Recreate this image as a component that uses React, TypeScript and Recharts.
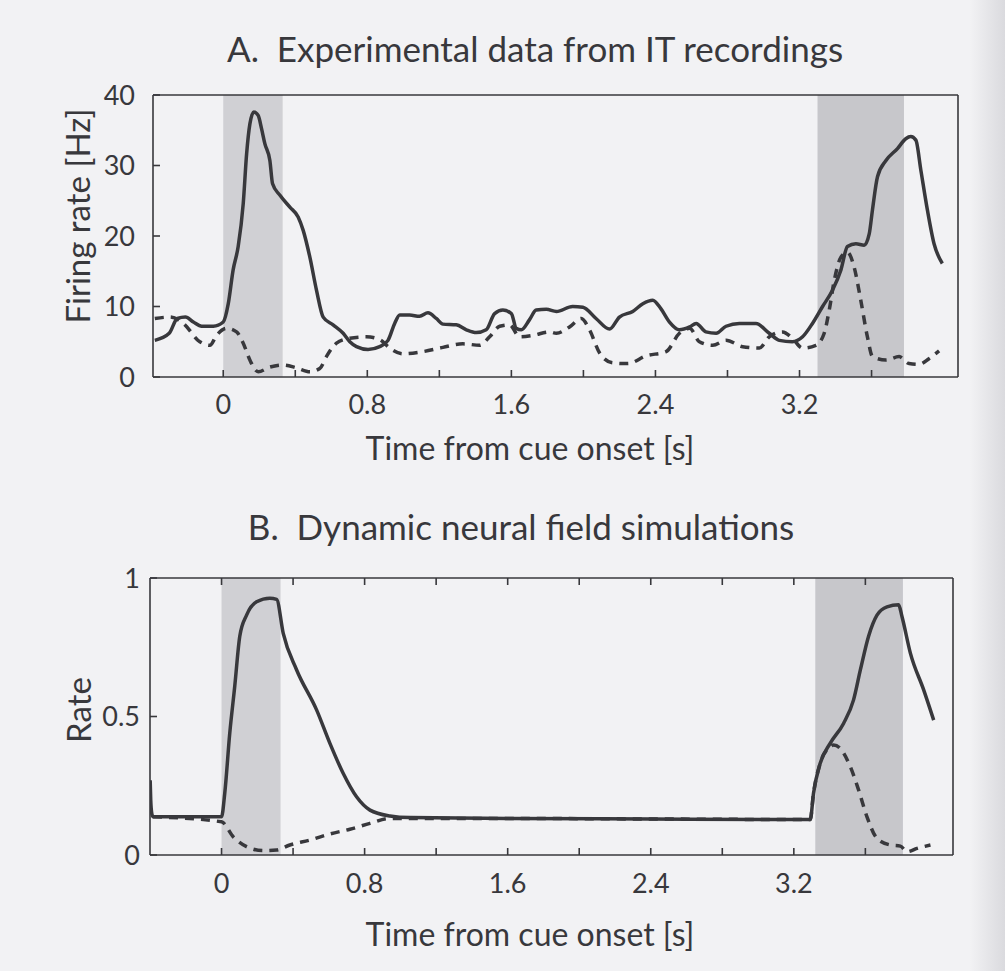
import { ComposedChart, Line, XAxis, YAxis, ReferenceArea } from "recharts";

// time axis ticks (s), labels only every 0.8 s
const timeTicks = [0, 0.4, 0.8, 1.2, 1.6, 2, 2.4, 2.8, 3.2, 3.6];
const rateTicksA = [0, 10, 20, 30, 40];
const rateTicksB = [0, 0.5, 1];

// cue and probe periods (shaded)
const cueWindow = [0, 0.33];
const probeWindowA = [3.3, 3.78];
const probeWindowB = [3.32, 3.81];

// A: recorded IT firing rate [Hz]
const itPreferredT = [
  -0.38, -0.3, -0.255, -0.21, -0.166, -0.12, -0.055, 0, 0.028, 0.055, 0.083, 0.111, 0.13, 0.148, 0.17, 0.194,
  0.213, 0.231, 0.259, 0.274, 0.314, 0.37, 0.416, 0.444, 0.481, 0.518, 0.555, 0.61, 0.666, 0.703, 0.74, 0.804,
  0.869, 0.915, 0.952, 0.98, 1.035, 1.09, 1.137, 1.183, 1.22, 1.294, 1.35, 1.405, 1.46, 1.507, 1.553, 1.6,
  1.627, 1.655, 1.7, 1.738, 1.794, 1.85, 1.94, 1.997, 2.07, 2.145, 2.2, 2.274, 2.33, 2.385, 2.43, 2.478,
  2.533, 2.59, 2.626, 2.68, 2.737, 2.792, 2.866, 2.958, 3.032, 3.088, 3.16, 3.217, 3.272, 3.328, 3.383, 3.43,
  3.466, 3.513, 3.559, 3.587, 3.605, 3.633, 3.68, 3.744, 3.79, 3.818, 3.846, 3.874, 3.91, 3.947, 3.993,
];
const itPreferredHz = [
  5.2, 6.2, 8.3, 8.5, 7.8, 7.2, 7.2, 7.8, 10.4, 15.2, 18.5, 24.6, 31.7, 35.9, 37.6, 37.1,
  35.2, 33.1, 30.7, 27.4, 25.8, 24.1, 22.7, 20.8, 17.0, 12.3, 8.5, 7.4, 6.2, 5.0, 4.3, 3.9,
  4.3, 5.2, 7.6, 8.8, 8.8, 8.6, 9.1, 8.3, 7.5, 7.4, 6.7, 6.3, 6.7, 9.0, 9.5, 9.0,
  6.9, 6.7, 8.1, 9.5, 9.6, 9.3, 10.0, 9.9, 8.3, 6.8, 8.5, 9.3, 10.4, 10.9, 9.7, 7.8,
  6.7, 7.1, 7.6, 6.4, 6.2, 7.2, 7.6, 7.6, 6.2, 5.2, 5.0, 5.7, 7.6, 10.0, 12.3, 15.2,
  18.5, 18.9, 18.7, 20.3, 23.7, 28.4, 30.7, 32.4, 33.8, 34.1, 33.6, 29.3, 23.7, 18.9, 16.1,
];
const itNonPreferredT = [
  -0.38, -0.296, -0.222, -0.13, -0.074, -0.037, 0.018, 0.074, 0.111, 0.148, 0.194, 0.259, 0.333, 0.407, 0.481,
  0.536, 0.573, 0.629, 0.703, 0.795, 0.869, 0.925, 0.998, 1.109, 1.22, 1.331, 1.424, 1.479, 1.535, 1.59,
  1.646, 1.72, 1.812, 1.85, 1.923, 1.988, 2.034, 2.09, 2.163, 2.246, 2.348, 2.459, 2.533, 2.59, 2.644,
  2.718, 2.792, 2.884, 2.977, 3.032, 3.106, 3.16, 3.217, 3.291, 3.337, 3.365, 3.393, 3.43, 3.466, 3.503,
  3.54, 3.577, 3.605, 3.68, 3.753, 3.808, 3.864, 3.919, 3.975,
];
const itNonPreferredHz = [
  8.3, 8.5, 7.6, 5.0, 4.5, 5.9, 6.9, 6.4, 4.8, 2.4, 0.75, 1.4, 1.7, 1.3, 0.75,
  1.2, 2.9, 4.8, 5.5, 5.7, 5.3, 4.1, 3.3, 3.6, 4.2, 4.7, 4.5, 5.7, 7.2, 7.4,
  5.7, 5.9, 6.4, 6.2, 7.1, 8.3, 6.7, 3.4, 2.0, 1.9, 3.0, 3.6, 6.2, 6.9, 5.0,
  4.5, 5.2, 4.3, 4.1, 5.7, 6.4, 5.5, 4.1, 4.5, 6.2, 9.5, 13.7, 17.0, 17.7, 15.6,
  10.9, 5.7, 2.9, 2.4, 2.9, 1.9, 1.8, 2.6, 3.7,
];

// B: neural field simulation rate
const dnfPreferredT = [
  -0.399, -0.396, -0.39, -0.383, 0, 0.018, 0.046, 0.074, 0.102, 0.14, 0.196, 0.27, 0.308, 0.345, 0.42,
  0.532, 0.606, 0.68, 0.755, 0.83, 0.942, 1.054, 1.6, 2.4, 3.292, 3.31, 3.347, 3.403, 3.478, 3.534,
  3.572, 3.618, 3.665, 3.721, 3.786, 3.805, 3.852, 3.926, 3.982,
];
const dnfPreferredRate = [
  0.27, 0.2, 0.15, 0.138, 0.138, 0.223, 0.44, 0.61, 0.79, 0.866, 0.914, 0.927, 0.923, 0.8, 0.668,
  0.523, 0.403, 0.295, 0.21, 0.162, 0.141, 0.135, 0.132, 0.13, 0.128, 0.223, 0.33, 0.403, 0.475, 0.56,
  0.668, 0.79, 0.866, 0.896, 0.903, 0.86, 0.728, 0.596, 0.487,
];
const dnfNonPreferredT = [
  -0.383, 0, 0.065, 0.14, 0.233, 0.308, 0.382, 0.494, 0.606, 0.718, 0.83, 0.942, 1.6, 2.4, 3.292,
  3.31, 3.347, 3.403, 3.422, 3.459, 3.515, 3.562, 3.609, 3.665, 3.74, 3.796, 3.833, 3.889, 3.964,
];
const dnfNonPreferredRate = [
  0.138, 0.12, 0.066, 0.03, 0.016, 0.018, 0.036, 0.054, 0.076, 0.093, 0.114, 0.132, 0.132, 0.13, 0.128,
  0.223, 0.33, 0.39, 0.397, 0.385, 0.32, 0.235, 0.138, 0.06, 0.036, 0.032, 0.012, 0.024, 0.036,
];

const INK = "#38383c";
const CUE_SHADE = "#d0d0d4";
const PROBE_SHADE = "#c7c7cb";
const FONT = "Lato, 'Open Sans', sans-serif";

const zip = (ts: number[], vs: number[]) => ts.map((t, i) => ({ t, v: vs[i] }));

const timeLabel = (v: number) => (Math.round(v * 10) % 8 === 0 ? String(v) : "");
const noLabel = () => "";

const tickStyle = { fill: INK, fontSize: 27, fontFamily: FONT };

export default function App() {
  return (
    <div
      style={{
        position: "absolute",
        left: 0,
        top: 0,
        width: 1005,
        height: 971,
        overflow: "hidden",
        background: "linear-gradient(to right, #f2f2f4 0%, #f2f2f4 96.5%, #dadade 100%)",
        fontFamily: FONT,
      }}
    >
      <div style={{ position: "absolute", left: 0, top: 0 }}>
        <ComposedChart width={1005} height={480} margin={{ top: 94, right: 46, bottom: 63, left: 93 }}>
          <XAxis
            xAxisId="bottom"
            type="number"
            dataKey="t"
            domain={[-0.39, 4.08]}
            ticks={timeTicks}
            tickFormatter={timeLabel}
            tickSize={-7}
            tickMargin={25}
            height={40}
            stroke={INK}
            strokeWidth={1.6}
            tick={tickStyle}
            allowDataOverflow
          />
          <XAxis
            xAxisId="top"
            orientation="top"
            type="number"
            dataKey="t"
            domain={[-0.39, 4.08]}
            tickLine={false}
            tick={false}
            height={1}
            stroke={INK}
            strokeWidth={1.6}
            allowDataOverflow
          />
          <YAxis
            yAxisId="left"
            type="number"
            domain={[0, 40]}
            ticks={rateTicksA}
            tickSize={-7}
            tickMargin={25}
            width={60}
            stroke={INK}
            strokeWidth={1.6}
            tick={tickStyle}
            allowDataOverflow
          />
          <YAxis
            yAxisId="right"
            orientation="right"
            type="number"
            domain={[0, 40]}
            tickLine={false}
            tick={false}
            width={1}
            stroke={INK}
            strokeWidth={1.6}
          />
          <ReferenceArea xAxisId="bottom" yAxisId="left" x1={cueWindow[0]} x2={cueWindow[1]} fill={CUE_SHADE} fillOpacity={1} stroke="none" />
          <ReferenceArea xAxisId="bottom" yAxisId="left" x1={probeWindowA[0]} x2={probeWindowA[1]} fill={PROBE_SHADE} fillOpacity={1} stroke="none" />
          <Line
            xAxisId="bottom"
            yAxisId="left"
            data={zip(itNonPreferredT, itNonPreferredHz)}
            dataKey="v"
            type="monotone"
            stroke={INK}
            strokeWidth={3.5}
            strokeDasharray="9 7"
            dot={false}
            isAnimationActive={false}
          />
          <Line
            xAxisId="bottom"
            yAxisId="left"
            data={zip(itPreferredT, itPreferredHz)}
            dataKey="v"
            type="monotone"
            stroke={INK}
            strokeWidth={3.5}
            dot={false}
            isAnimationActive={false}
          />
        </ComposedChart>
      </div>

      <div style={{ position: "absolute", left: 0, top: 480 }}>
        <ComposedChart width={1005} height={491} margin={{ top: 97, right: 51, bottom: 76, left: 90 }}>
          <XAxis
            xAxisId="bottom"
            type="number"
            dataKey="t"
            domain={[-0.4, 4.09]}
            ticks={timeTicks}
            tickFormatter={timeLabel}
            tickSize={-7}
            tickMargin={26}
            height={40}
            stroke={INK}
            strokeWidth={1.6}
            tick={tickStyle}
            allowDataOverflow
          />
          <XAxis
            xAxisId="top"
            orientation="top"
            type="number"
            dataKey="t"
            domain={[-0.4, 4.09]}
            ticks={timeTicks}
            tickFormatter={noLabel}
            tickSize={-7}
            height={1}
            stroke={INK}
            strokeWidth={1.6}
            allowDataOverflow
          />
          <YAxis
            yAxisId="left"
            type="number"
            domain={[0, 1]}
            ticks={rateTicksB}
            tickSize={-7}
            tickMargin={17}
            width={60}
            stroke={INK}
            strokeWidth={1.6}
            tick={tickStyle}
            allowDataOverflow
          />
          <YAxis
            yAxisId="right"
            orientation="right"
            type="number"
            domain={[0, 1]}
            ticks={rateTicksB}
            tickFormatter={noLabel}
            tickSize={-7}
            width={1}
            stroke={INK}
            strokeWidth={1.6}
          />
          <ReferenceArea xAxisId="bottom" yAxisId="left" x1={cueWindow[0]} x2={cueWindow[1]} fill={CUE_SHADE} fillOpacity={1} stroke="none" />
          <ReferenceArea xAxisId="bottom" yAxisId="left" x1={probeWindowB[0]} x2={probeWindowB[1]} fill={PROBE_SHADE} fillOpacity={1} stroke="none" />
          <Line
            xAxisId="bottom"
            yAxisId="left"
            data={zip(dnfPreferredT, dnfPreferredRate)}
            dataKey="v"
            type="monotone"
            stroke={INK}
            strokeWidth={3.5}
            dot={false}
            isAnimationActive={false}
          />
          <Line
            xAxisId="bottom"
            yAxisId="left"
            data={zip(dnfNonPreferredT, dnfNonPreferredRate)}
            dataKey="v"
            type="monotone"
            stroke={INK}
            strokeWidth={3.5}
            strokeDasharray="9 7"
            dot={false}
            isAnimationActive={false}
          />
        </ComposedChart>
      </div>

      <svg width={1005} height={971} style={{ position: "absolute", left: 0, top: 0, pointerEvents: "none" }}>
        <g fill={INK} fontFamily={FONT}>
          <text x={535} y={62} textAnchor="middle" fontSize={35}>
            {"A.\u00A0 Experimental data from IT recordings"}
          </text>
          <text x={90} y={216} textAnchor="middle" fontSize={33} transform="rotate(-90 90 216)">
            Firing rate [Hz]
          </text>
          <text x={530} y={460} textAnchor="middle" fontSize={32}>
            Time from cue onset [s]
          </text>
          <text x={521} y={540} textAnchor="middle" fontSize={35}>
            {"B.\u00A0 Dynamic neural field simulations"}
          </text>
          <text x={91} y={710} textAnchor="middle" fontSize={33} transform="rotate(-90 91 710)">
            Rate
          </text>
          <text x={530} y={946} textAnchor="middle" fontSize={32}>
            Time from cue onset [s]
          </text>
        </g>
      </svg>
    </div>
  );
}
